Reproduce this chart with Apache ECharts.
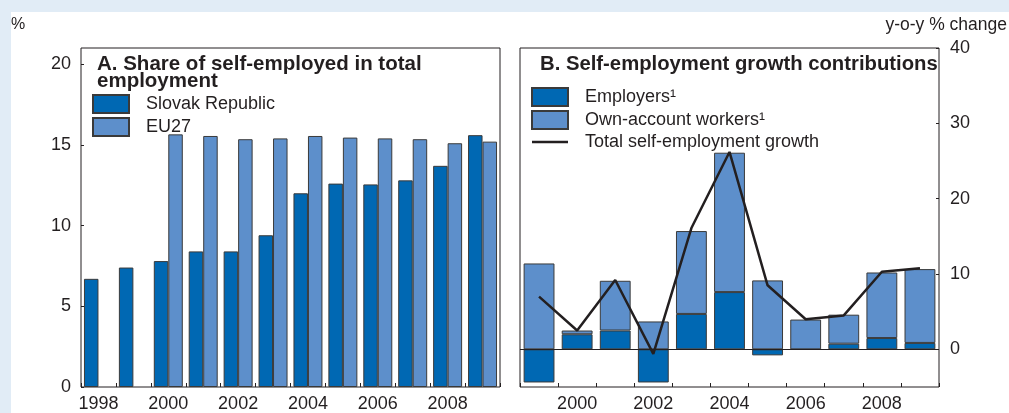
<!DOCTYPE html>
<html>
<head>
<meta charset="utf-8">
<script src="https://cdn.jsdelivr.net/npm/echarts@6/dist/echarts.min.js"></script>
<style>
  html, body { margin: 0; padding: 0; background: #e1ecf6; }
  #chart { width: 1009px; height: 413px; }
</style>
</head>
<body>
<div id="chart"></div>
<script>
// Panel A: share of self-employed in total employment (%)
const yearsA = ['1998', '1999', '2000', '2001', '2002', '2003', '2004', '2005', '2006', '2007', '2008', '2009'];
const slovakShare = [6.7, 7.4, 7.8, 8.4, 8.4, 9.4, 12.0, 12.6, 12.55, 12.8, 13.7, 15.6];
const eu27Share = [null, null, 15.65, 15.55, 15.35, 15.4, 15.55, 15.45, 15.4, 15.35, 15.1, 15.2];

// Panel B: self-employment growth contributions (y-o-y % change)
const yearsB = ['1999', '2000', '2001', '2002', '2003', '2004', '2005', '2006', '2007', '2008', '2009'];
const employers = [-4.4, 2.0, 2.5, -4.4, 4.7, 7.6, -0.8, 0, 0.75, 1.5, 0.85];
const ownAccount = [11.4, 0.5, 6.6, 3.7, 11.0, 18.5, 9.15, 3.95, 3.85, 8.7, 9.8];
const totalGrowth = [7.0, 2.5, 9.2, -0.6, 16.1, 26.2, 8.5, 4.0, 4.5, 10.3, 10.75];

const ticksA = [0, 5, 10, 15, 20];
const ticksB = [0, 10, 20, 30, 40];

const INK = '#231f20';
const DARK = '#0068b3';
const LIGHT = '#5d8fcb';
const EDGE = '#3a3a3a';
const FONT = "'Liberation Sans', Arial, Helvetica, sans-serif";

const chart = echarts.init(document.getElementById('chart'));

const barStyle = (color) => ({ color: color, borderColor: EDGE, borderWidth: 1 });
const legendText = { fontSize: 18, lineHeight: 18, color: INK, fontFamily: FONT, padding: [0, 0, 0, 12] };
const lineIcon = 'path://M0,0H36V2.5H0Z';

chart.setOption({
  backgroundColor: '#e1ecf6',
  animation: false,
  textStyle: { fontFamily: FONT, color: INK },
  graphic: [
    { type: 'rect', z: -100, shape: { x: 11, y: 12, width: 998, height: 401 }, style: { fill: '#ffffff' } },
    { type: 'text', left: 11, top: 17, style: { text: '%', fontSize: 16, fill: INK, fontFamily: FONT } },
    { type: 'text', right: 2, top: 16, style: { text: 'y-o-y % change', fontSize: 17.5, fill: INK, fontFamily: FONT } }
  ],
  title: [
    {
      text: 'A. Share of self-employed in total\nemployment',
      left: 97, top: 56, padding: 0,
      textStyle: { fontSize: 20.5, fontWeight: 'bold', color: INK, fontFamily: FONT, lineHeight: 17 }
    },
    {
      text: 'B. Self-employment growth contributions',
      left: 540, top: 56, padding: 0,
      textStyle: { fontSize: 20.3, fontWeight: 'bold', color: INK, fontFamily: FONT, lineHeight: 17 }
    }
  ],
  legend: [
    {
      left: 92, top: 94, padding: 0, orient: 'vertical', itemWidth: 36, itemHeight: 18, itemGap: 3,
      icon: 'rect', selectedMode: false,
      data: ['Slovak Republic', 'EU27'], textStyle: legendText
    },
    {
      left: 531, top: 87, padding: 0, orient: 'vertical', itemWidth: 36, itemHeight: 18, itemGap: 3,
      icon: 'rect', selectedMode: false,
      data: [
        'Employers¹',
        'Own-account workers¹',
        { name: 'Total self-employment growth', icon: lineIcon, itemStyle: { color: INK, borderWidth: 0 } }
      ],
      textStyle: legendText
    }
  ],
  grid: [
    { left: 81, top: 48, width: 419, height: 339, show: true, borderColor: INK, borderWidth: 1, backgroundColor: 'transparent' },
    { left: 520, top: 48, width: 419, height: 339, show: true, borderColor: INK, borderWidth: 1, backgroundColor: 'transparent' }
  ],
  xAxis: [
    {
      type: 'category', gridIndex: 0, data: yearsA,
      axisLine: { show: false, onZero: false },
      axisTick: { show: true, inside: true, length: 4, interval: 0, lineStyle: { color: INK } },
      axisLabel: { interval: (i) => i % 2 === 0, fontSize: 18, color: INK, margin: 8, fontFamily: FONT }
    },
    {
      type: 'category', gridIndex: 1, data: yearsB,
      axisLine: { show: false, onZero: false },
      axisTick: { show: true, inside: true, length: 4, interval: 0, lineStyle: { color: INK } },
      axisLabel: { interval: (i) => i % 2 === 1, fontSize: 18, color: INK, margin: 8, fontFamily: FONT }
    }
  ],
  yAxis: [
    {
      type: 'value', gridIndex: 0, min: 0, max: 21, interval: 5,
      axisLine: { show: false },
      splitLine: { show: false },
      axisTick: { show: true, inside: true, length: 3, customValues: ticksA, lineStyle: { color: INK } },
      axisLabel: {
        fontSize: 18, color: INK, margin: 10, fontFamily: FONT, customValues: ticksA,
        formatter: (v) => (ticksA.includes(v) ? String(v) : '')
      }
    },
    {
      type: 'value', gridIndex: 1, position: 'right', min: -5, max: 40, interval: 5,
      axisLine: { show: false },
      splitLine: { show: false },
      axisTick: { show: true, inside: true, length: 3, customValues: ticksB, lineStyle: { color: INK } },
      axisLabel: {
        fontSize: 18, color: INK, margin: 11, fontFamily: FONT, customValues: ticksB,
        formatter: (v) => (ticksB.includes(v) ? String(v) : '')
      }
    }
  ],
  series: [
    {
      name: 'Slovak Republic', type: 'bar', xAxisIndex: 0, yAxisIndex: 0,
      data: slovakShare, barGap: '0%', barCategoryGap: '17%', itemStyle: barStyle(DARK)
    },
    {
      name: 'EU27', type: 'bar', xAxisIndex: 0, yAxisIndex: 0,
      data: eu27Share, barGap: '0%', barCategoryGap: '17%', itemStyle: barStyle(LIGHT)
    },
    {
      name: 'Employers¹', type: 'bar', xAxisIndex: 1, yAxisIndex: 1, stack: 'growth',
      data: employers, barCategoryGap: '19%', itemStyle: barStyle(DARK),
      markLine: {
        silent: true, symbol: 'none', label: { show: false },
        lineStyle: { color: INK, width: 1, type: 'solid' },
        data: [{ yAxis: 0 }]
      }
    },
    {
      name: 'Own-account workers¹', type: 'bar', xAxisIndex: 1, yAxisIndex: 1, stack: 'growth',
      data: ownAccount, barCategoryGap: '19%', itemStyle: barStyle(LIGHT)
    },
    {
      name: 'Total self-employment growth', type: 'line', xAxisIndex: 1, yAxisIndex: 1,
      data: totalGrowth, symbol: 'none', z: 5,
      lineStyle: { color: INK, width: 2.5 }, itemStyle: { color: INK }
    }
  ]
});
</script>
</body>
</html>
